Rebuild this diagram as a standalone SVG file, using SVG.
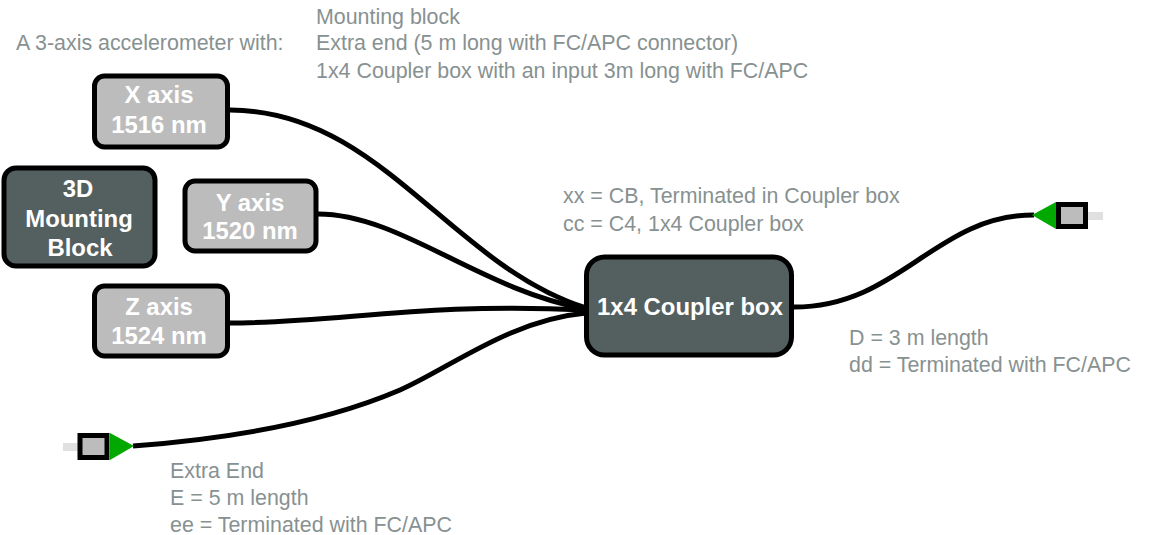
<svg xmlns="http://www.w3.org/2000/svg" width="1151" height="535" viewBox="0 0 1151 535">
<defs><style>
text{font-family:"Liberation Sans",Arial,sans-serif}
.note{font-size:21.4px;fill:#879191}
.lbl{font-size:23.9px;font-weight:bold;fill:#fff;text-anchor:middle}
.ax{fill:#bcbcbc;stroke:#000;stroke-width:5}
.dk{fill:#546060;stroke:#000;stroke-width:5}
.wire{fill:none;stroke:#000;stroke-width:5}
.tip{fill:#e0e0e0}
.green{fill:#00a800}
.body{fill:#bcbcbc;stroke:#000;stroke-width:5}
</style></defs>
<rect width="1151" height="535" fill="#fff"/>
<g id="connectors">
<path class="wire" d="M230 110C380 110 450 265 586 308"/>
<path class="wire" d="M318 214C400 214 480 290 586 309"/>
<path class="wire" d="M229 323C340 323 420 302 586 310"/>
<path class="wire" d="M133 446C240 438 330 420 400 390C450 368 510 320 586 313"/>
<path class="wire" d="M794 307C900 307 935 215 1034 215"/>
</g>
<g id="x-axis"><rect class="ax" x="94.500" y="76" width="133" height="71" rx="10"/><text class="lbl" x="159" y="103">X axis</text><text class="lbl" x="159" y="133">1516 nm</text></g>
<g id="y-axis"><rect class="ax" x="185" y="181" width="131" height="70" rx="10"/><text class="lbl" x="250" y="211">Y axis</text><text class="lbl" x="250" y="239">1520 nm</text></g>
<g id="z-axis"><rect class="ax" x="94.500" y="286" width="133" height="70" rx="10"/><text class="lbl" x="159" y="315">Z axis</text><text class="lbl" x="159" y="344">1524 nm</text></g>
<g id="mounting-block"><rect class="dk" x="4" y="168" width="151" height="98" rx="12"/><text class="lbl" x="78" y="197">3D</text><text class="lbl" x="79" y="227">Mounting</text><text class="lbl" x="80" y="256">Block</text></g>
<g id="coupler-box"><rect class="dk" x="586.500" y="257" width="205" height="98" rx="18"/><text class="lbl" x="690" y="315">1x4 Coupler box</text></g>
<g id="connector-left"><rect class="tip" x="63" y="443" width="15" height="8"/><rect class="body" x="80" y="435.500" width="27" height="22"/><polygon class="green" points="110,433 134,446 110,460"/></g>
<g id="connector-right"><rect class="tip" x="1088" y="212" width="15" height="8"/><rect class="body" x="1058.500" y="204.500" width="27" height="22"/><polygon class="green" points="1056,202 1032,215 1056,229"/></g>
<g id="notes">
<text class="note" x="16" y="50">A 3-axis accelerometer with:</text>
<text class="note" x="316" y="24">Mounting block</text>
<text class="note" x="316" y="50">Extra end (5 m long with FC/APC connector)</text>
<text class="note" x="316" y="78">1x4 Coupler box with an input 3m long with FC/APC</text>
<text class="note" x="563" y="203">xx = CB, Terminated in Coupler box</text>
<text class="note" x="563" y="231">cc = C4, 1x4 Coupler box</text>
<text class="note" x="849" y="345">D = 3 m length</text>
<text class="note" x="849" y="372">dd = Terminated with FC/APC</text>
<text class="note" x="170" y="478">Extra End</text>
<text class="note" x="170" y="505">E = 5 m length</text>
<text class="note" x="170" y="532">ee = Terminated with FC/APC</text>
</g>
</svg>
